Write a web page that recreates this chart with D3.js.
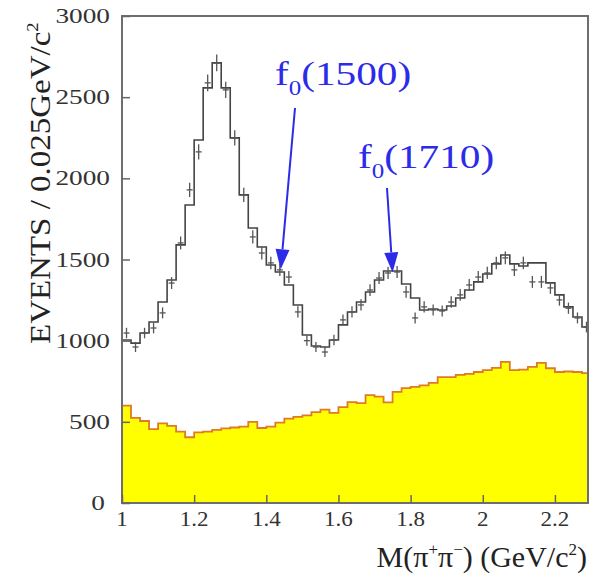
<!DOCTYPE html>
<html>
<head>
<meta charset="utf-8">
<script src="https://cdn.jsdelivr.net/npm/d3@7"></script>
<style>
  body { margin: 0; background: #fff; }
  svg { display: block; font-family: "Liberation Serif", "DejaVu Serif", serif; }
</style>
</head>
<body>
<svg width="590" height="576"></svg>
<script>
// bins of 0.025 GeV from 1.0 to 2.3
var binLow = 1.0, binWidth = 0.025;

// fitted total (black histogram)
var fitValues = [1004, 985, 1047, 1115, 1238, 1374, 1590, 1836, 2236, 2557,
                 2711, 2557, 2249, 1898, 1694, 1577, 1466, 1423, 1343, 1220,
                 1035, 967, 961, 1004, 1097, 1177, 1238, 1300, 1374, 1429,
                 1429, 1349, 1263, 1189, 1195, 1189, 1214, 1263, 1312, 1362,
                 1411, 1473, 1528, 1473, 1460, 1479, 1479, 1356, 1282, 1208,
                 1146, 1084];

// measured points (crosses)
var dataValues = [1047, 961, 1047, 1078, 1171, 1355, 1602, 1929, 2163, 2588,
                  2711, 2545, 2249, 1898, 1639, 1540, 1479, 1436, 1392, 1177,
                  1000, 961, 930, 1004, 1128, 1177, 1220, 1312, 1386, 1417,
                  1423, 1300, 1140, 1208, 1189, 1183, 1238, 1282, 1343, 1392,
                  1417, 1479, 1510, 1436, 1479, 1362, 1362, 1325, 1251, 1200,
                  1140, 1084];

// background (yellow histogram)
var bkgValues = [600, 525, 505, 455, 490, 475, 440, 405, 435, 440,
                 450, 460, 465, 470, 500, 462, 470, 495, 520, 530,
                 540, 560, 575, 555, 590, 622, 615, 665, 655, 620,
                 685, 708, 715, 725, 740, 776, 776, 789, 795, 807,
                 819, 832, 869, 819, 822, 838, 863, 830, 807, 810,
                 807, 800];

var xTicks = [1, 1.2, 1.4, 1.6, 1.8, 2, 2.2];
var yTicks = [0, 500, 1000, 1500, 2000, 2500, 3000];

// annotations: label, mass where the arrow points, value at the tip
var peakLabels = ["(1500)", "(1710)"];
var peakMass = [1.44, 1.75];
var peakTip = [1440, 1420];

var plotL = 122, plotR = 588, plotT = 16, plotB = 503;

var x = d3.scaleLinear().domain([1, 2.3]).range([plotL, 591]);
var y = d3.scaleLinear().domain([0, 3000]).range([plotB, plotT]);

var svg = d3.select("svg");

svg.append("clipPath").attr("id", "plot")
    .append("rect")
    .attr("x", plotL).attr("y", plotT)
    .attr("width", plotR - plotL).attr("height", plotB - plotT);

function steps(values) {
    var pts = values.map(function (v, i) {
        return {m: binLow + i * binWidth, v: v};
    });
    pts.push({m: binLow + values.length * binWidth, v: values[values.length - 1]});
    return pts;
}

var g = svg.append("g").attr("clip-path", "url(#plot)");

// yellow background
g.append("path")
    .datum(steps(bkgValues))
    .attr("fill", "#ffff00")
    .attr("stroke", "#e07a28")
    .attr("stroke-width", 1.8)
    .attr("d", d3.area()
        .curve(d3.curveStepAfter)
        .x(function (d) { return x(d.m); })
        .y0(y(0))
        .y1(function (d) { return y(d.v); }));

// total fit
g.append("path")
    .datum(steps(fitValues))
    .attr("fill", "none")
    .attr("stroke", "#444")
    .attr("stroke-width", 1.6)
    .attr("d", d3.line()
        .curve(d3.curveStepAfter)
        .x(function (d) { return x(d.m); })
        .y(function (d) { return y(d.v); }));

// data crosses
var pts = g.selectAll(".pt")
    .data(dataValues)
    .enter().append("g")
    .attr("class", "pt")
    .attr("stroke", "#555")
    .attr("stroke-width", 1.3);

pts.append("line")
    .attr("x1", function (d, i) { return x(binLow + (i + 0.5) * binWidth) - 3; })
    .attr("x2", function (d, i) { return x(binLow + (i + 0.5) * binWidth) + 3; })
    .attr("y1", function (d) { return y(d); })
    .attr("y2", function (d) { return y(d); });

pts.append("line")
    .attr("x1", function (d, i) { return x(binLow + (i + 0.5) * binWidth); })
    .attr("x2", function (d, i) { return x(binLow + (i + 0.5) * binWidth); })
    .attr("y1", function (d) { return y(d + Math.sqrt(d)); })
    .attr("y2", function (d) { return y(d - Math.sqrt(d)); });

// frame
svg.append("rect")
    .attr("x", plotL).attr("y", plotT)
    .attr("width", plotR - plotL).attr("height", plotB - plotT)
    .attr("fill", "none")
    .attr("stroke", "#6e6e6e")
    .attr("stroke-width", 2);

// inward ticks
svg.append("g")
    .attr("transform", "translate(" + plotL + ",0)")
    .call(d3.axisRight(y).tickValues(yTicks).tickSize(8).tickFormat(""))
    .call(function (a) {
        a.select(".domain").remove();
        a.selectAll("line").attr("stroke", "#666").attr("stroke-width", 1.5);
    });

svg.append("g")
    .attr("transform", "translate(0," + plotB + ")")
    .call(d3.axisTop(x).tickValues(xTicks).tickSize(8).tickFormat(""))
    .call(function (a) {
        a.select(".domain").remove();
        a.selectAll("line").attr("stroke", "#666").attr("stroke-width", 1.5);
    });

// tick labels (the original glyphs are a bit wide, hence the x stretch)
svg.selectAll(".ylab")
    .data(yTicks)
    .enter().append("text")
    .attr("class", "ylab")
    .attr("transform", function (d) {
        return "translate(" + (d === 0 ? 105 : 110) + "," + (y(d) + 7) + ") scale(1.3,1)";
    })
    .attr("text-anchor", "end")
    .attr("font-size", 21)
    .attr("fill", "#333")
    .text(function (d) { return d; });

svg.selectAll(".xlab")
    .data(xTicks)
    .enter().append("text")
    .attr("class", "xlab")
    .attr("transform", function (d) {
        return "translate(" + x(d) + ",526) scale(1.15,1)";
    })
    .attr("text-anchor", "middle")
    .attr("font-size", 20)
    .attr("fill", "#333")
    .text(function (d) { return d; });

// axis titles
var xt = svg.append("text")
    .attr("x", 587).attr("y", 567)
    .attr("text-anchor", "end")
    .attr("font-size", 30)
    .attr("fill", "#222");
xt.append("tspan").text("M(π");
xt.append("tspan").attr("font-size", 17).attr("dy", -12).text("+");
xt.append("tspan").attr("dy", 12).text("π");
xt.append("tspan").attr("font-size", 17).attr("dy", -12).text("−");
xt.append("tspan").attr("dy", 12).text(") (GeV/c");
xt.append("tspan").attr("font-size", 17).attr("dy", -12).text("2");
xt.append("tspan").attr("dy", 12).text(")");

var yt = svg.append("text")
    .attr("transform", "translate(50,344) rotate(-90) scale(1.1,1)")
    .attr("font-size", 30)
    .attr("fill", "#222");
yt.append("tspan").text("EVENTS / 0.025GeV/c");
yt.append("tspan").attr("font-size", 17).attr("dy", -12).text("2");

// peak annotations
var blue = "#2b2be8";
var labelPos = [[275, 85], [358, 168]];
var tailPos = [[295, 108], [387, 188]];

peakLabels.forEach(function (lab, i) {
    var t = svg.append("text")
        .attr("transform", "translate(" + labelPos[i][0] + "," + labelPos[i][1] + ") scale(1.25,1)")
        .attr("font-size", 33)
        .attr("fill", blue);
    t.append("tspan").text("f");
    t.append("tspan").attr("font-size", 20).attr("dy", 10).text("0");
    t.append("tspan").attr("dy", -10).text(lab);

    var tx = x(peakMass[i]), ty = y(peakTip[i]);
    var sx = tailPos[i][0], sy = tailPos[i][1];
    var ang = Math.atan2(ty - sy, tx - sx);
    var len = 20, half = 7;
    var bx = tx - len * Math.cos(ang), by = ty - len * Math.sin(ang);

    svg.append("line")
        .attr("x1", sx).attr("y1", sy)
        .attr("x2", bx).attr("y2", by)
        .attr("stroke", blue)
        .attr("stroke-width", 2);

    svg.append("path")
        .attr("fill", blue)
        .attr("d", "M" + tx + "," + ty +
            "L" + (bx + half * Math.sin(ang)) + "," + (by - half * Math.cos(ang)) +
            "L" + (bx - half * Math.sin(ang)) + "," + (by + half * Math.cos(ang)) + "Z");
});
</script>
</body>
</html>
